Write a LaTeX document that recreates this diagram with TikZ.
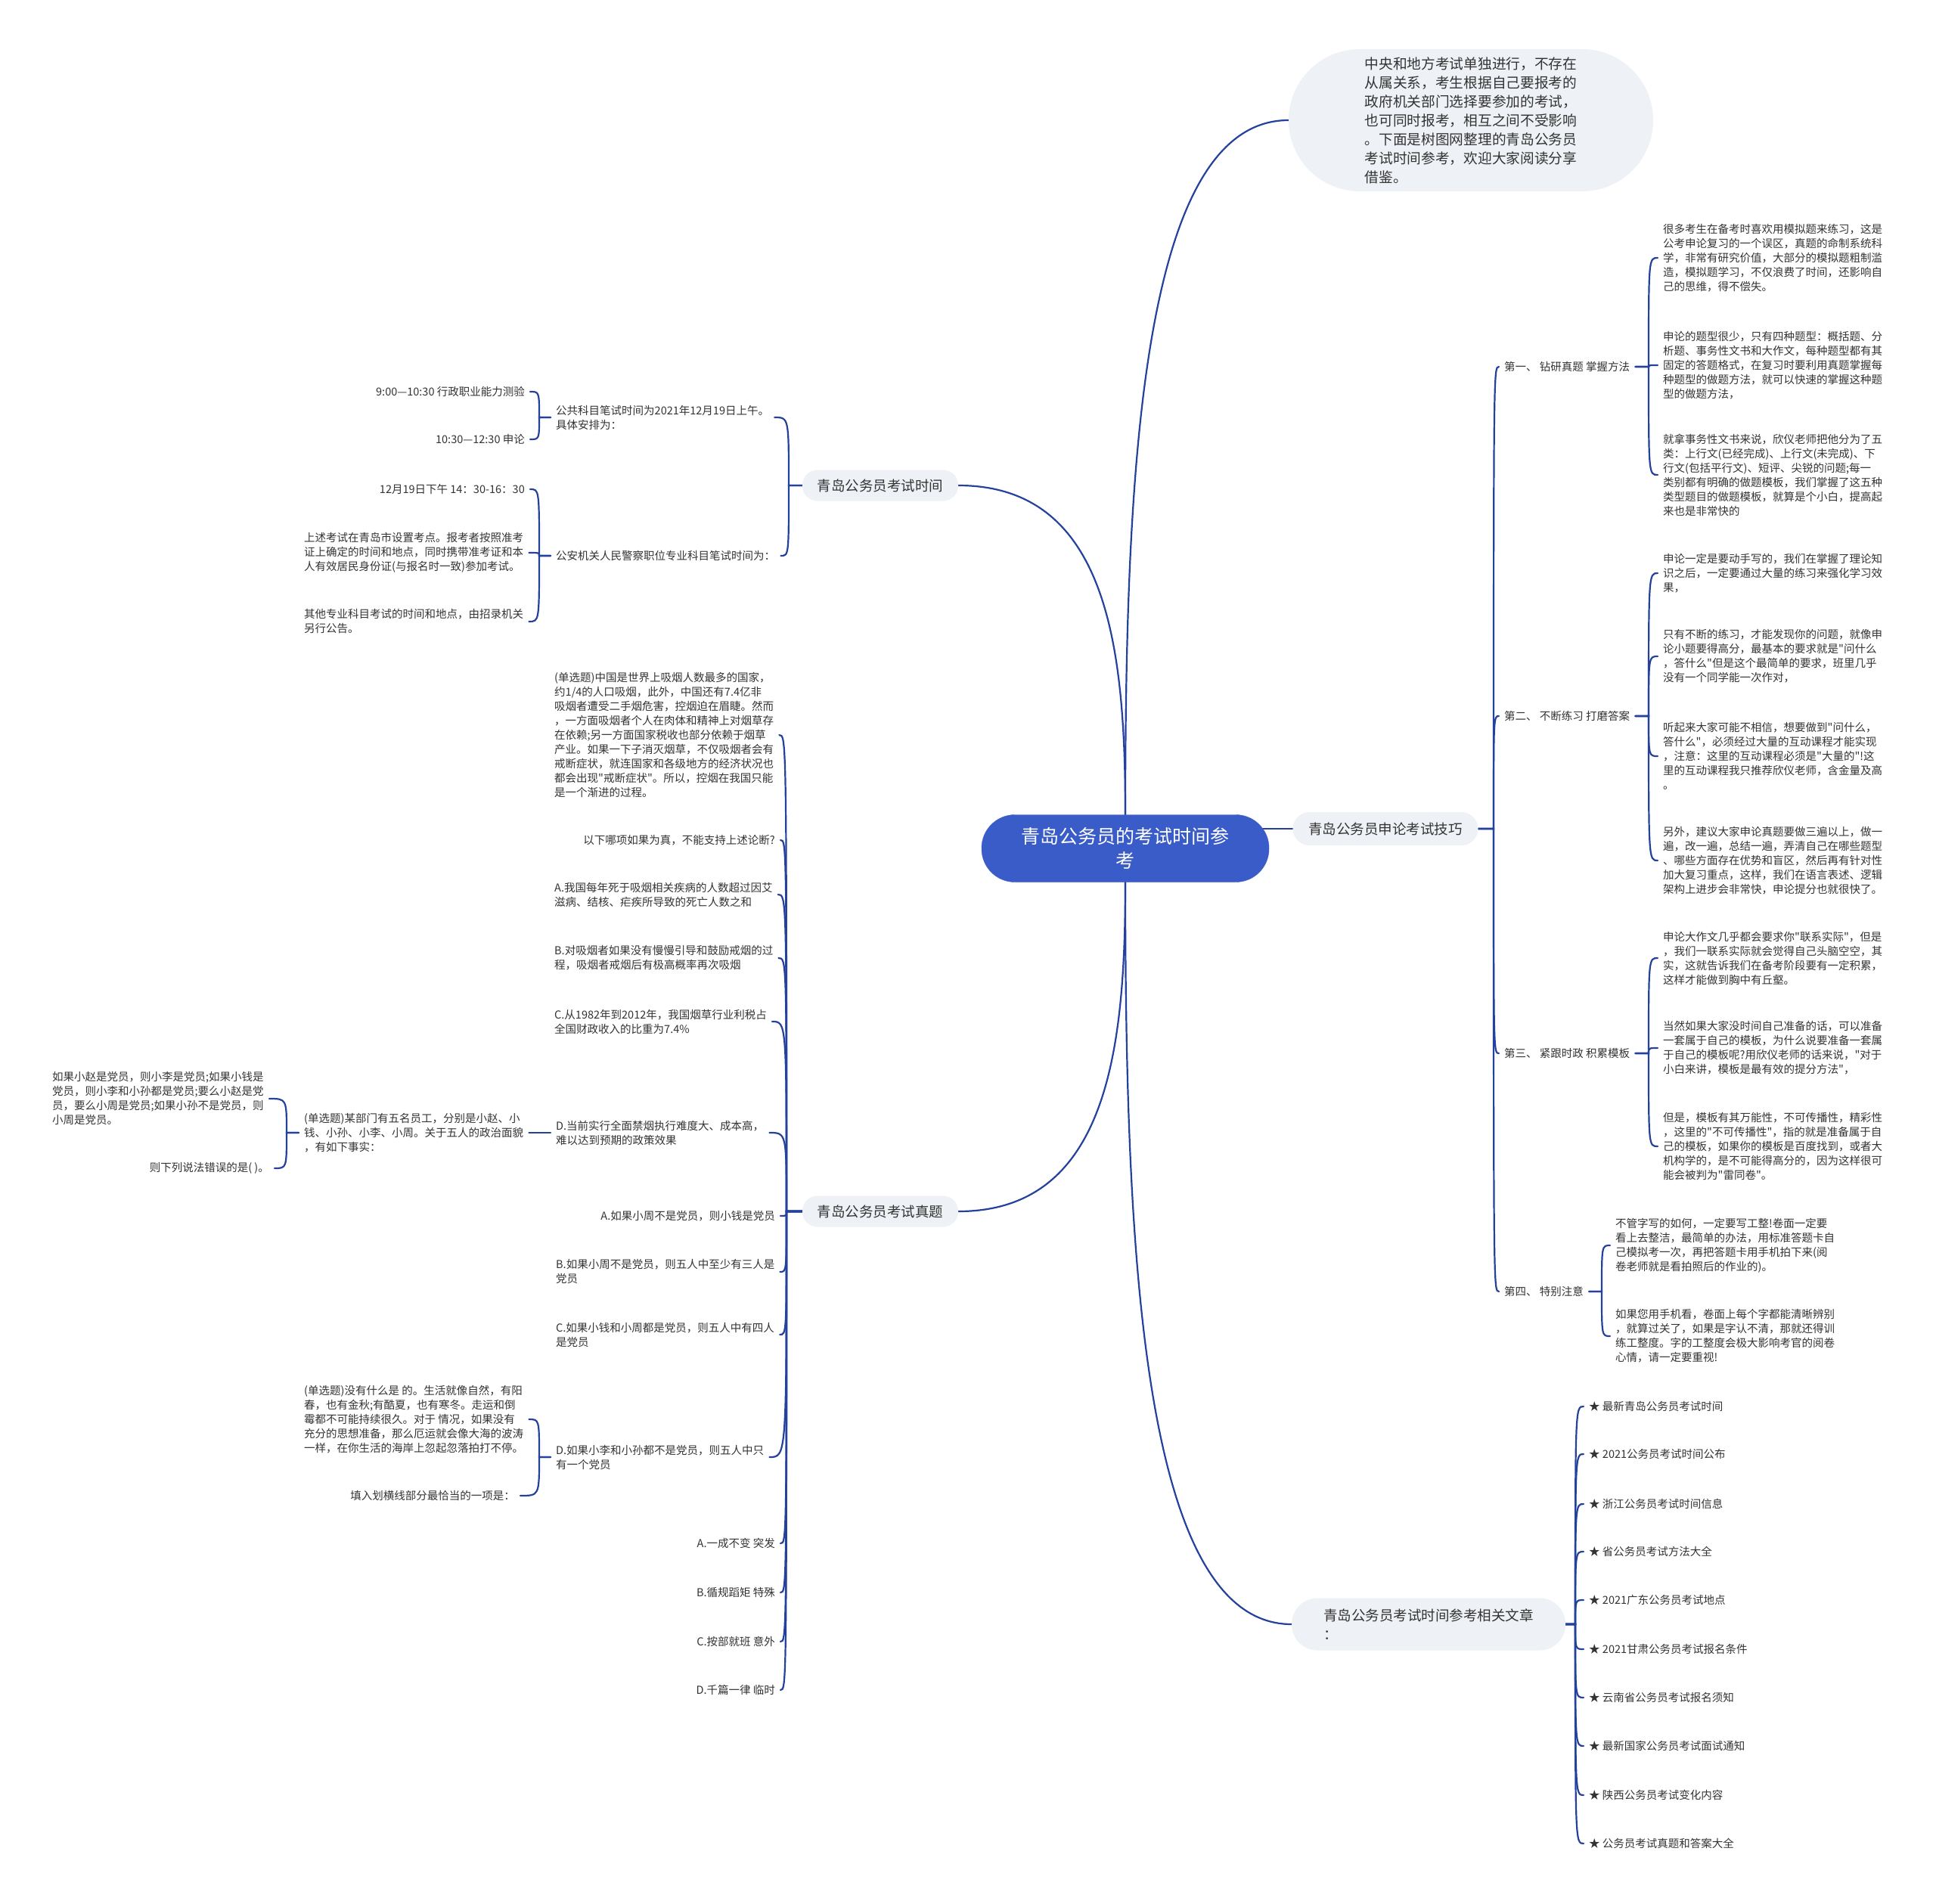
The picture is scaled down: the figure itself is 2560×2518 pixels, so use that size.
\documentclass[tikz,border=0pt]{standalone}
\usepackage{fontspec}
\setmainfont{Noto Sans CJK SC}[Ligatures=TeXOff]
\usetikzlibrary{calc}
\pgfdeclarelayer{bg}
\pgfsetlayers{bg,main}
\definecolor{lc}{RGB}{36,66,156}
\definecolor{tc}{RGB}{51,51,51}
\definecolor{bf}{RGB}{238,241,245}
\definecolor{cf}{RGB}{58,92,200}
\tikzset{
  conn/.style={draw=lc, line width=2.2pt, line cap=round},
  t/.style={font=\fontsize{14.5}{19}\selectfont, text=tc, inner xsep=7pt, inner ysep=0pt, align=left},
  bnode/.style={fill=bf, rounded corners=20pt, font=\fontsize{18.5}{24}\selectfont, text=tc, inner sep=0pt, align=center},
  ctr/.style={fill=cf, draw=cf, rounded corners=44pt, minimum width=380pt, minimum height=89pt, text=white, font=\fontsize{25}{32}\selectfont, align=center, inner sep=0pt},
}
\newcommand\brR[3]{\path (#3,0) coordinate (spx); \path (spx |- #1.east) coordinate (sp); \draw[conn] (#1.east) -- (sp) .. controls (sp |- #2.west) .. (#2.west);}
\newcommand\brL[3]{\path (#3,0) coordinate (spx); \path (spx |- #1.west) coordinate (sp); \draw[conn] (#1.west) -- (sp) .. controls (sp |- #2.east) .. (#2.east);}
\newcommand\mainc[2]{\draw[conn] (#1) .. controls ($(#1)!0.5!(#1 |- #2)$) and ($(#1 |- #2)!0.1!(#2)$) .. (#2);}
\begin{document}
\begin{tikzpicture}[x=1pt,y=-1pt]
\begin{pgfonlayer}{bg}
\fill[white] (0,0) rectangle (2560,2518);
\end{pgfonlayer}
\useasboundingbox (0,0) rectangle (2560,2518);
% center and main branches
\node[ctr] (C) at (1488,1122) {青岛公务员的考试时间参\\考};
\node[bnode, minimum width=206pt, minimum height=41pt] (SJ) at (1164,642) {青岛公务员考试时间};
\node[bnode, minimum width=206pt, minimum height=41pt] (ZT) at (1164,1602) {青岛公务员考试真题};
\node[bnode, minimum width=245pt, minimum height=44pt, rounded corners=22pt] (SL) at (1832,1096) {青岛公务员申论考试技巧};
\node[bnode, minimum width=482pt, minimum height=188pt, rounded corners=94pt, font=\fontsize{18.7}{25}\selectfont, align=left] (I) at (1945,159) {中央和地方考试单独进行，不存在\\从属关系，考生根据自己要报考的\\政府机关部门选择要参加的考试，\\也可同时报考，相互之间不受影响\\。下面是树图网整理的青岛公务员\\考试时间参考，欢迎大家阅读分享\\借鉴。};
\node[bnode, minimum width=362pt, minimum height=69pt, rounded corners=34pt, align=left, font=\fontsize{18.5}{24.5}\selectfont] (XG) at (1889,2148) {青岛公务员考试时间参考相关文章\\：};
% right: 申论 labels
\node[t,anchor=west] (L1) at (1982,485) {第一、 钻研真题 掌握方法};
\node[t,anchor=west] (L2) at (1982,947) {第二、 不断练习 打磨答案};
\node[t,anchor=west] (L3) at (1982,1393) {第三、 紧跟时政 积累模板};
\node[t,anchor=west] (L4) at (1982,1708) {第四、 特别注意};
\node[t,anchor=west] (c11) at (2192,341) {很多考生在备考时喜欢用模拟题来练习，这是\\公考申论复习的一个误区，真题的命制系统科\\学，非常有研究价值，大部分的模拟题粗制滥\\造，模拟题学习，不仅浪费了时间，还影响自\\己的思维，得不偿失。};
\node[t,anchor=west] (c12) at (2192,483) {申论的题型很少，只有四种题型：概括题、分\\析题、事务性文书和大作文，每种题型都有其\\固定的答题格式，在复习时要利用真题掌握每\\种题型的做题方法，就可以快速的掌握这种题\\型的做题方法，};
\node[t,anchor=west] (c13) at (2192,628) {就拿事务性文书来说，欣仪老师把他分为了五\\类：上行文(已经完成)、上行文(未完成)、下\\行文(包括平行文)、短评、尖锐的问题;每一\\类别都有明确的做题模板，我们掌握了这五种\\类型题目的做题模板，就算是个小白，提高起\\来也是非常快的};
\node[t,anchor=west] (c21) at (2192,758) {申论一定是要动手写的，我们在掌握了理论知\\识之后，一定要通过大量的练习来强化学习效\\果，};
\node[t,anchor=west] (c22) at (2192,868) {只有不断的练习，才能发现你的问题，就像申\\论小题要得高分，最基本的要求就是"问什么\\，答什么"但是这个最简单的要求，班里几乎\\没有一个同学能一次作对，};
\node[t,anchor=west] (c23) at (2192,1000) {听起来大家可能不相信，想要做到"问什么，\\答什么"，必须经过大量的互动课程才能实现\\，注意：这里的互动课程必须是"大量的"!这\\里的互动课程我只推荐欣仪老师，含金量及高\\。};
\node[t,anchor=west] (c24) at (2192,1138) {另外，建议大家申论真题要做三遍以上，做一\\遍，改一遍，总结一遍，弄清自己在哪些题型\\、哪些方面存在优势和盲区，然后再有针对性\\加大复习重点，这样，我们在语言表述、逻辑\\架构上进步会非常快，申论提分也就很快了。};
\node[t,anchor=west] (c31) at (2192,1267) {申论大作文几乎都会要求你"联系实际"，但是\\，我们一联系实际就会觉得自己头脑空空，其\\实，这就告诉我们在备考阶段要有一定积累，\\这样才能做到胸中有丘壑。};
\node[t,anchor=west] (c32) at (2192,1386) {当然如果大家没时间自己准备的话，可以准备\\一套属于自己的模板，为什么说要准备一套属\\于自己的模板呢?用欣仪老师的话来说，"对于\\小白来讲，模板是最有效的提分方法"，};
\node[t,anchor=west] (c33) at (2192,1516) {但是，模板有其万能性，不可传播性，精彩性\\，这里的"不可传播性"，指的就是准备属于自\\己的模板，如果你的模板是百度找到，或者大\\机构学的，是不可能得高分的，因为这样很可\\能会被判为"雷同卷"。};
\node[t,anchor=west] (c41) at (2129,1647) {不管字写的如何，一定要写工整!卷面一定要\\看上去整洁，最简单的办法，用标准答题卡自\\己模拟考一次，再把答题卡用手机拍下来(阅\\卷老师就是看拍照后的作业的)。};
\node[t,anchor=west] (c42) at (2129,1767) {如果您用手机看，卷面上每个字都能清晰辨别\\，就算过关了，如果是字认不清，那就还得训\\练工整度。字的工整度会极大影响考官的阅卷\\心情，请一定要重视!};
% right: related articles
\foreach \i/\y/\s in {1/1860/最新青岛公务员考试时间, 2/1923/2021公务员考试时间公布, 3/1989/浙江公务员考试时间信息, 4/2052/省公务员考试方法大全, 5/2116/2021广东公务员考试地点, 6/2181/2021甘肃公务员考试报名条件, 7/2245/云南省公务员考试报名须知, 8/2309/最新国家公务员考试面试通知, 9/2374/陕西公务员考试变化内容, 10/2438/公务员考试真题和答案大全}
  {\node[t,anchor=west] (s\i) at (2094,\y) {★ \s};}
% left: 考试时间
\node[t,anchor=west] (a1) at (728,552) {公共科目笔试时间为2021年12月19日上午。\\具体安排为：};
\node[t,anchor=west] (a2) at (728,735) {公安机关人民警察职位专业科目笔试时间为：};
\node[t,anchor=east] (a11) at (701,518) {9:00—10:30 行政职业能力测验};
\node[t,anchor=east] (a12) at (701,581) {10:30—12:30 申论};
\node[t,anchor=east] (a21) at (701,647) {12月19日下午 14：30-16：30};
\node[t,anchor=west] (a22) at (395,731) {上述考试在青岛市设置考点。报考者按照准考\\证上确定的时间和地点，同时携带准考证和本\\人有效居民身份证(与报名时一致)参加考试。};
\node[t,anchor=west] (a23) at (395,822) {其他专业科目考试的时间和地点，由招录机关\\另行公告。};
% left: 考试真题
\node[t,anchor=west] (z1) at (726,972) {(单选题)中国是世界上吸烟人数最多的国家，\\约1/4的人口吸烟，此外，中国还有7.4亿非\\吸烟者遭受二手烟危害，控烟迫在眉睫。然而\\，一方面吸烟者个人在肉体和精神上对烟草存\\在依赖;另一方面国家税收也部分依赖于烟草\\产业。如果一下子消灭烟草，不仅吸烟者会有\\戒断症状，就连国家和各级地方的经济状况也\\都会出现"戒断症状"。所以，控烟在我国只能\\是一个渐进的过程。};
\node[t,anchor=east] (z2) at (1032,1111) {以下哪项如果为真，不能支持上述论断?};
\node[t,anchor=west] (z3) at (726,1183) {A.我国每年死于吸烟相关疾病的人数超过因艾\\滋病、结核、疟疾所导致的死亡人数之和};
\node[t,anchor=west] (z4) at (726,1267) {B.对吸烟者如果没有慢慢引导和鼓励戒烟的过\\程，吸烟者戒烟后有极高概率再次吸烟};
\node[t,anchor=west] (z5) at (726,1351) {C.从1982年到2012年，我国烟草行业利税占\\全国财政收入的比重为7.4\%};
\node[t,anchor=west] (z6) at (728,1498) {D.当前实行全面禁烟执行难度大、成本高，\\难以达到预期的政策效果};
\node[t,anchor=east] (z7) at (1032,1608) {A.如果小周不是党员，则小钱是党员};
\node[t,anchor=west] (z8) at (728,1682) {B.如果小周不是党员，则五人中至少有三人是\\党员};
\node[t,anchor=west] (z9) at (728,1765) {C.如果小钱和小周都是党员，则五人中有四人\\是党员};
\node[t,anchor=west] (z10) at (728,1927) {D.如果小李和小孙都不是党员，则五人中只\\有一个党员};
\node[t,anchor=east] (z11) at (1032,2041) {A.一成不变 突发};
\node[t,anchor=east] (z12) at (1032,2106) {B.循规蹈矩 特殊};
\node[t,anchor=east] (z13) at (1032,2171) {C.按部就班 意外};
\node[t,anchor=east] (z14) at (1032,2235) {D.千篇一律 临时};
\node[t,anchor=west] (z61) at (395,1498) {(单选题)某部门有五名员工，分别是小赵、小\\钱、小孙、小李、小周。关于五人的政治面貌\\，有如下事实：};
\node[t,anchor=west] (z611) at (62,1453) {如果小赵是党员，则小李是党员;如果小钱是\\党员，则小李和小孙都是党员;要么小赵是党\\员，要么小周是党员;如果小孙不是党员，则\\小周是党员。};
\node[t,anchor=east] (z612) at (363,1545) {则下列说法错误的是( )。};
\node[t,anchor=west] (z101) at (395,1877) {(单选题)没有什么是 的。生活就像自然，有阳\\春，也有金秋;有酷夏，也有寒冬。走运和倒\\霉都不可能持续很久。对于 情况，如果没有\\充分的思想准备，那么厄运就会像大海的波涛\\一样，在你生活的海岸上忽起忽落拍打不停。};
\node[t,anchor=east] (z102) at (688,1978) {填入划横线部分最恰当的一项是：};
% connectors
\begin{pgfonlayer}{bg}
\mainc{C.north}{SJ.east}
\mainc{C.north}{I.west}
\mainc{C.south}{ZT.east}
\mainc{C.south}{XG.west}
\draw[conn] (C.center |- SL.west) -- (SL.west);
\foreach \n in {L1,L2,L3,L4} {\brR{SL}{\n}{1975}}
\foreach \n in {c11,c12,c13} {\brR{L1}{\n}{2180}}
\foreach \n in {c21,c22,c23,c24} {\brR{L2}{\n}{2180}}
\foreach \n in {c31,c32,c33} {\brR{L3}{\n}{2180}}
\foreach \n in {c41,c42} {\brR{L4}{\n}{2118}}
\foreach \i in {1,...,10} {\brR{XG}{s\i}{2083}}
\foreach \n in {a1,a2} {\brL{SJ}{\n}{1043}}
\foreach \n in {a11,a12} {\brL{a1}{\n}{713}}
\foreach \n in {a21,a22,a23} {\brL{a2}{\n}{713}}
\foreach \n in {z1,z2,z3,z4,z5,z6,z7,z8,z9,z10,z11,z12,z13,z14} {\brL{ZT}{\n}{1040}}
\draw[conn] (z6.west) -- (z61.east);
\foreach \n in {z611,z612} {\brL{z61}{\n}{379}}
\foreach \n in {z101,z102} {\brL{z10}{\n}{713}}
\end{pgfonlayer}
\end{tikzpicture}
\end{document}
